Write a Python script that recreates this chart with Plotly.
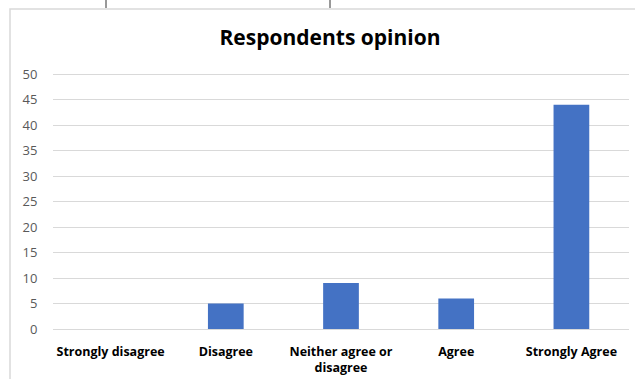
import plotly.graph_objects as go

categories = ["Strongly disagree", "Disagree", "Neither agree or<br>disagree", "Agree", "Strongly Agree"]
values = [0, 5, 9, 6, 44]
y_ticks = [0, 5, 10, 15, 20, 25, 30, 35, 40, 45, 50]

L, R, T, B = 53, 6, 69, 50
W, H = 635, 379
pw, ph = W - L - R, H - T - B

def px_x(x):
    return (x - L) / pw

def px_y(y):
    return 1 - (y - T) / ph

fig = go.Figure(go.Bar(x=categories, y=values, marker_color="#4472C4",
                       marker_line_width=0))

shapes = [
    dict(type="rect", xref="paper", yref="paper", x0=px_x(10), x1=px_x(700),
         y0=px_y(420), y1=px_y(9), line=dict(color="#d9d9d9", width=1.5),
         fillcolor="rgba(0,0,0,0)", layer="below"),
    dict(type="line", xref="paper", yref="paper", x0=px_x(106), x1=px_x(106),
         y0=px_y(0), y1=px_y(8), line=dict(color="#333", width=1)),
    dict(type="line", xref="paper", yref="paper", x0=px_x(330), x1=px_x(330),
         y0=px_y(0), y1=px_y(8), line=dict(color="#333", width=1)),
]

fig.update_layout(
    width=W, height=H,
    margin=dict(l=L, r=R, t=T, b=B),
    paper_bgcolor="white", plot_bgcolor="white",
    bargap=0.69,
    font=dict(family="Open Sans, sans-serif"),
    title=dict(text="<b>Respondents opinion</b>", x=330 / W, xanchor="center",
               y=1 - 38 / H, yanchor="middle",
               font=dict(size=21, color="#000")),
    showlegend=False,
    shapes=shapes,
    xaxis=dict(showgrid=False, showline=True, linecolor="#d9d9d9", linewidth=1,
               automargin=False,
               tickfont=dict(size=12.5, color="#000", family="Open Sans, sans-serif", weight="bold"),
               ticks="outside", ticklen=11, tickcolor="rgba(0,0,0,0)"),
    yaxis=dict(range=[0, 51], tickvals=y_ticks, showgrid=True, gridcolor="#d9d9d9",
               gridwidth=1, zeroline=False, showline=False, automargin=False,
               tickfont=dict(size=13, color="#595959"),
               ticks="outside", ticklen=12, tickcolor="rgba(0,0,0,0)"),
)

fig.write_html("out.html")
